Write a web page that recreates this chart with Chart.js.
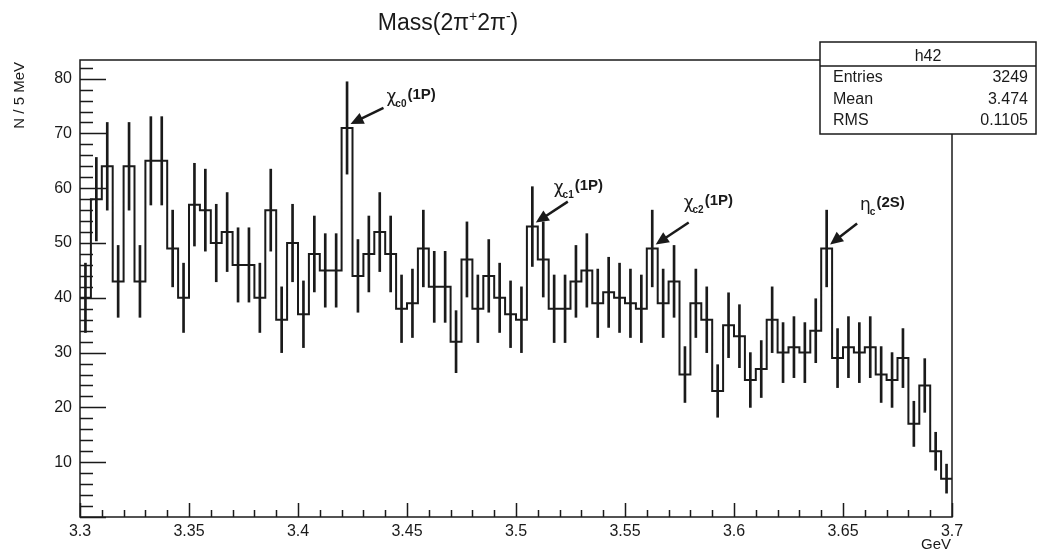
<!DOCTYPE html>
<html>
<head>
<meta charset="utf-8">
<script src="https://cdn.jsdelivr.net/npm/chart.js@4.4.1/dist/chart.umd.min.js"></script>
<style>
  html, body { margin: 0; background: #fff; }
  #wrap { width: 1040px; height: 556px; }
</style>
</head>
<body>
<div id="wrap"><canvas id="massChart"></canvas></div>
<script>
// histogram h42: 80 bins of 5 MeV from 3.3 to 3.7 GeV
const binLow = 3.3;
const binWidth = 0.005;
const counts = [
    40, 58, 64, 43, 64, 43, 65, 65, 49, 40,
    57, 56, 50, 52, 46, 46, 40, 56, 36, 50,
    37, 48, 45, 45, 71, 44, 48, 52, 48, 38,
    39, 49, 42, 42, 32, 47, 38, 44, 40, 37,
    36, 53, 47, 38, 38, 43, 45, 39, 41, 40,
    39, 38, 49, 39, 43, 26, 39, 36, 23, 35,
    33, 25, 27, 36, 30, 31, 30, 34, 49, 29,
    31, 30, 31, 26, 25, 29, 17, 24, 12, 7
];
const xTicks = [3.3, 3.35, 3.4, 3.45, 3.5, 3.55, 3.6, 3.65, 3.7];
const yTicks = [0, 10, 20, 30, 40, 50, 60, 70, 80];
const statNames = ["Entries", "Mean", "RMS"];
const statValues = ["3249", "3.474", "0.1105"];
const peakSymbols = ["χ", "χ", "χ", "η"];
const peakSubs = ["c0", "c1", "c2", "c"];
const peakStates = ["(1P)", "(1P)", "(1P)", "(2S)"];
const peakBins = [24, 41, 52, 68];

const yMax = 83.4;
const ink = "#1a1a1a";

// step outline: left edge of every bin, plus the upper edge of the last bin
const stepPoints = counts.map((c, i) => ({ x: binLow + i * binWidth, y: c }));
stepPoints.push({ x: binLow + counts.length * binWidth, y: counts[counts.length - 1] });

// poisson error bars as thin floating bars at bin centres
const errorBars = counts.map((c, i) => ({
    x: binLow + (i + 0.5) * binWidth,
    y: [c - Math.sqrt(c), c + Math.sqrt(c)]
}));

function fmtX(v) {
    return String(Number(v.toFixed(2)));
}

// ROOT style frame, inner ticks, titles, stats box and peak labels
const rootDecor = {
    id: "rootDecor",
    afterDatasetsDraw(chart) {
        const { ctx, chartArea: a, scales: { x, y } } = chart;
        ctx.save();
        ctx.strokeStyle = ink;
        ctx.fillStyle = ink;
        ctx.lineWidth = 1.5;

        // frame
        ctx.strokeRect(a.left, a.top, a.right - a.left, a.bottom - a.top);

        // y ticks (major 10, minor 2), drawn inside
        ctx.beginPath();
        for (let v = 0; v <= yMax; v += 2) {
            const py = Math.round(y.getPixelForValue(v)) + 0.5;
            const len = v % 10 === 0 ? 26 : 13;
            ctx.moveTo(a.left, py);
            ctx.lineTo(a.left + len, py);
        }
        // x ticks (major 0.05, minor 0.01)
        for (let k = 0; k <= 40; k++) {
            const px = Math.round(x.getPixelForValue(binLow + k * 0.01)) + 0.5;
            const len = k % 5 === 0 ? 14 : 7;
            ctx.moveTo(px, a.bottom);
            ctx.lineTo(px, a.bottom - len);
        }
        ctx.stroke();

        // title
        ctx.textBaseline = "alphabetic";
        ctx.textAlign = "left";
        const parts = [["Mass(2π", 23, 0], ["+", 14, -9], ["2π", 23, 0], ["-", 14, -9], [")", 23, 0]];
        let total = 0;
        parts.forEach(p => { ctx.font = p[1] + "px 'Liberation Sans', Arial"; total += ctx.measureText(p[0]).width; });
        let tx = 448 - total / 2;
        parts.forEach(p => {
            ctx.font = p[1] + "px 'Liberation Sans', Arial";
            ctx.fillText(p[0], tx, 30 + p[2]);
            tx += ctx.measureText(p[0]).width;
        });

        // axis titles
        ctx.font = "15px 'Liberation Sans', Arial";
        ctx.textAlign = "right";
        ctx.fillText("GeV", 951, 549);
        ctx.save();
        ctx.translate(24, a.top + 2);
        ctx.rotate(-Math.PI / 2);
        ctx.fillText("N / 5 MeV", 0, 0);
        ctx.restore();

        // peak labels with arrows
        peakBins.forEach((b, i) => {
            const tipX = x.getPixelForValue(binLow + (b + 1) * binWidth) - 2;
            const tipY = y.getPixelForValue(counts[b]) - 4;
            const tailDx = [33, 32, 33, 27][i];
            const tailDy = [-16, -21, -22, -21][i];
            const textDx = [36, 18, 28, 30][i];
            const textDy = [-22, -30, -36, -34][i];
            const ang = Math.atan2(-tailDy, -tailDx);
            ctx.beginPath();
            ctx.lineWidth = 2.5;
            ctx.moveTo(tipX + tailDx, tipY + tailDy);
            ctx.lineTo(tipX + Math.cos(ang) * -8, tipY + Math.sin(ang) * -8);
            ctx.stroke();
            ctx.beginPath();
            ctx.moveTo(tipX, tipY);
            ctx.lineTo(tipX - 13 * Math.cos(ang) + 6 * Math.sin(ang), tipY - 13 * Math.sin(ang) - 6 * Math.cos(ang));
            ctx.lineTo(tipX - 13 * Math.cos(ang) - 6 * Math.sin(ang), tipY - 13 * Math.sin(ang) + 6 * Math.cos(ang));
            ctx.closePath();
            ctx.fill();

            let lx = tipX + textDx;
            const ly = tipY + textDy;
            ctx.textAlign = "left";
            ctx.font = "17px 'DejaVu Sans', sans-serif";
            ctx.fillText(peakSymbols[i], lx, ly);
            lx += ctx.measureText(peakSymbols[i]).width;
            ctx.font = "bold 10px 'Liberation Sans', Arial";
            ctx.fillText(peakSubs[i], lx - 1, ly + 5);
            lx += ctx.measureText(peakSubs[i]).width;
            ctx.font = "bold 15px 'Liberation Sans', Arial";
            ctx.fillText(peakStates[i], lx, ly - 3);
        });

        // stats box
        const bx = 820, by = 42, bw = 216, bh = 92;
        ctx.lineWidth = 1.5;
        ctx.fillStyle = "#fff";
        ctx.fillRect(bx, by, bw, bh);
        ctx.strokeRect(bx, by, bw, bh);
        ctx.beginPath();
        ctx.moveTo(bx, by + 24);
        ctx.lineTo(bx + bw, by + 24);
        ctx.stroke();
        ctx.fillStyle = ink;
        ctx.font = "16px 'Liberation Sans', Arial";
        ctx.textAlign = "center";
        ctx.fillText("h42", bx + bw / 2, by + 19);
        statNames.forEach((n, i) => {
            const ry = by + 40 + i * 21.5;
            ctx.textAlign = "left";
            ctx.fillText(n, bx + 13, ry);
            ctx.textAlign = "right";
            ctx.fillText(statValues[i], bx + bw - 8, ry);
        });
        ctx.restore();
    }
};

new Chart(document.getElementById("massChart"), {
    data: {
        datasets: [
            {
                type: "line",
                data: stepPoints,
                stepped: true,
                borderColor: ink,
                borderWidth: 2,
                pointRadius: 0,
                fill: false
            },
            {
                type: "bar",
                data: errorBars,
                backgroundColor: ink,
                borderWidth: 0,
                barThickness: 2
            }
        ]
    },
    options: {
        responsive: true,
        maintainAspectRatio: false,
        animation: false,
        layout: { padding: { top: 60, right: 88, left: 0, bottom: 0 } },
        plugins: { legend: { display: false }, tooltip: { enabled: false } },
        scales: {
            x: {
                type: "linear",
                offset: false,
                min: binLow,
                max: binLow + counts.length * binWidth,
                grid: { display: false, offset: false },
                border: { display: false },
                afterFit: s => { s.height = 39; },
                afterBuildTicks: s => { s.ticks = xTicks.map(v => ({ value: v })); },
                ticks: {
                    color: ink,
                    padding: -3,
                    maxRotation: 0,
                    autoSkip: false,
                    font: { family: "'Liberation Sans', Arial", size: 16 },
                    callback: v => fmtX(v)
                }
            },
            y: {
                min: 0,
                max: yMax,
                grid: { display: false },
                border: { display: false },
                afterFit: s => { s.width = 80; },
                afterBuildTicks: s => { s.ticks = yTicks.map(v => ({ value: v })); },
                ticks: {
                    color: ink,
                    padding: 0,
                    font: { family: "'Liberation Sans', Arial", size: 16 },
                    callback: v => (v === 0 ? "" : String(v))
                }
            }
        }
    },
    plugins: [rootDecor]
});
</script>
</body>
</html>
